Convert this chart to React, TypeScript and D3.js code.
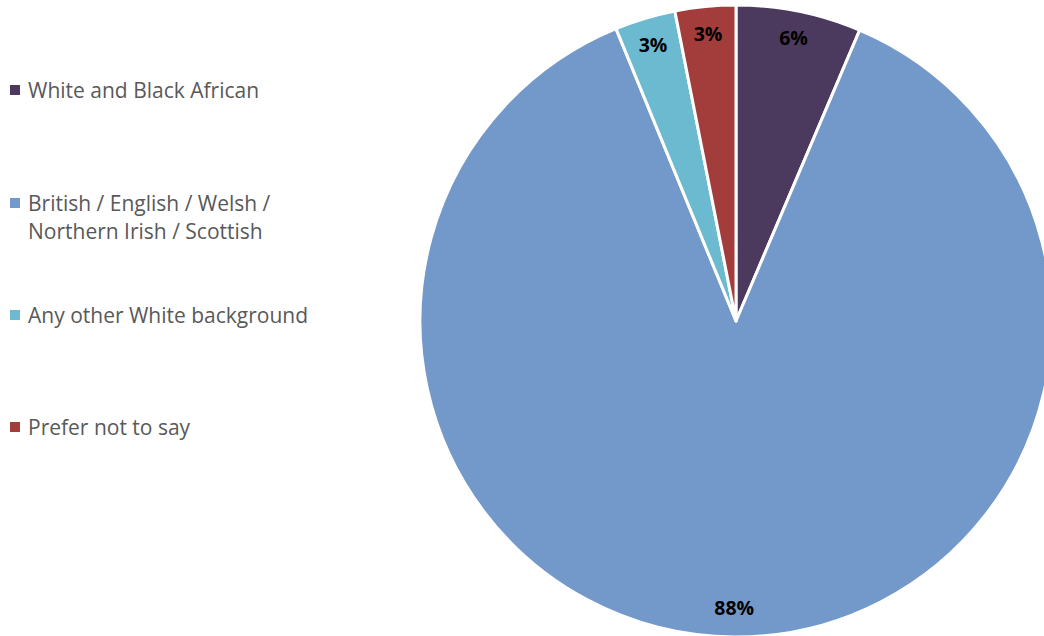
import React from "react";
import * as d3 from "d3";

const categories = [
  "White and Black African",
  "British / English / Welsh / Northern Irish / Scottish",
  "Any other White background",
  "Prefer not to say",
];
const values = [6.4, 87.4, 3.1, 3.1];
const valueLabels = ["6%", "88%", "3%", "3%"];
const legendLines = [
  ["White and Black African"],
  ["British / English / Welsh /", "Northern Irish / Scottish"],
  ["Any other White background"],
  ["Prefer not to say"],
];
const colors = ["#4B3A5E", "#7399CA", "#6CBAD0", "#A23D3C"];

const W = 1044;
const H = 636;
const cx = 736;
const cy = 321;
const R = 316;
const labelR = 288;
const FONT = "'Open Sans', sans-serif";

export default function App() {
  const data = categories.map((c, i) => ({ c, v: values[i], i }));
  const pie = d3.pie<any>().value((d) => d.v).sort(null);
  const arcs = pie(data);
  const arc = d3.arc<any>().innerRadius(0).outerRadius(R);
  const legendY = [90, 203, 315, 427];
  return (
    <svg
      width={W}
      height={H}
      style={{ position: "absolute", left: 0, top: 0, background: "#fff" }}
    >
      <g transform={`translate(${cx},${cy})`}>
        {arcs.map((a, i) => (
          <path
            key={i}
            d={arc(a) as string}
            fill={colors[i]}
            stroke="#fff"
            strokeWidth={3}
            strokeLinejoin="round"
          />
        ))}
        {arcs.map((a, i) => {
          const m = (a.startAngle + a.endAngle) / 2;
          const x = Math.sin(m) * labelR;
          const y = -Math.cos(m) * labelR - 1;
          return (
            <text
              key={i}
              x={x}
              y={y}
              textAnchor="middle"
              dominantBaseline="central"
              fontFamily={FONT}
              fontWeight="bold"
              fontSize={19.5}
              fill="#000"
            >
              {valueLabels[i]}
            </text>
          );
        })}
      </g>
      {legendLines.map((lines, i) => (
        <g key={i}>
          <rect x={10} y={legendY[i] - 5} width={10} height={10} fill={colors[i]} />
          {lines.map((l, j) => (
            <text
              key={j}
              x={28}
              y={legendY[i] + j * 28}
              dominantBaseline="central"
              fontFamily={FONT}
              fontSize={21}
              fill="#595959"
            >
              {l}
            </text>
          ))}
        </g>
      ))}
    </svg>
  );
}
